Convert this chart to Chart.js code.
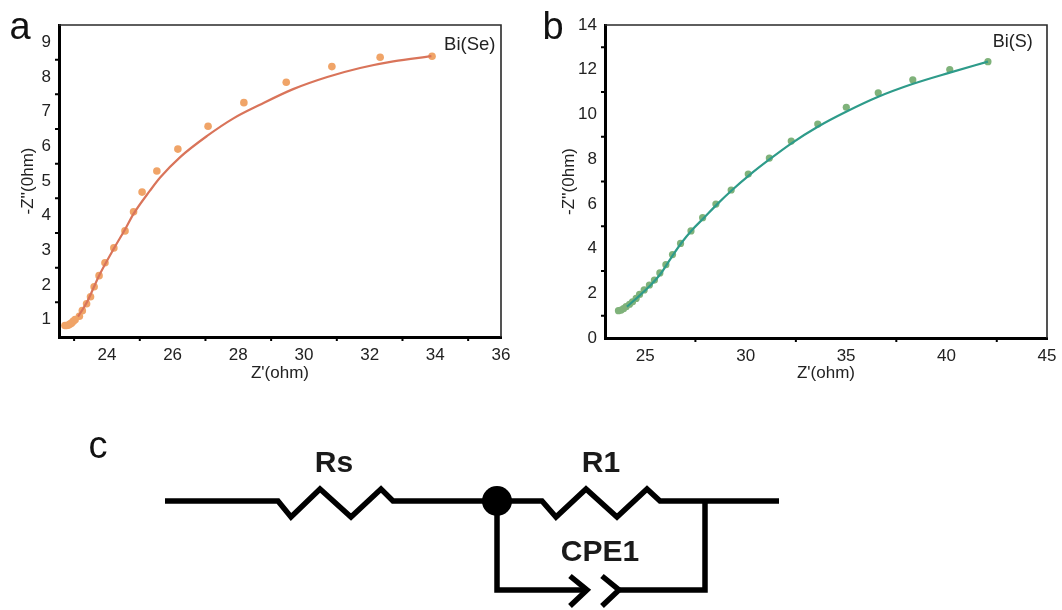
<!DOCTYPE html>
<html>
<head>
<meta charset="utf-8">
<script src="https://cdn.jsdelivr.net/npm/chart.js@4"></script>
<style>
  html, body { margin: 0; padding: 0; background: #fff; }
  body { width: 1062px; height: 610px; position: relative; overflow: hidden; }
  .box { position: absolute; }
</style>
</head>
<body>
<div class="box" style="left:0;top:0;width:530px;height:400px"><canvas id="chartA"></canvas></div>
<div class="box" style="left:530px;top:0;width:532px;height:400px"><canvas id="chartB"></canvas></div>
<div class="box" style="left:0;top:400px;width:1062px;height:210px"><canvas id="chartC"></canvas></div>
<script>
// panel a, Bi(Se)
var seX = [22.72, 22.77, 22.82, 22.87, 22.92, 22.97, 23.03, 23.16, 23.25, 23.38, 23.5, 23.61, 23.76, 23.94, 24.21, 24.55, 24.81, 25.07, 25.52, 26.16, 27.08, 28.17, 29.46, 30.85, 32.32, 33.9];
var seY = [0.83, 0.83, 0.84, 0.87, 0.9, 0.95, 1.0, 1.1, 1.26, 1.46, 1.66, 1.95, 2.27, 2.64, 3.07, 3.56, 4.11, 4.68, 5.29, 5.92, 6.58, 7.26, 7.85, 8.3, 8.57, 8.6];
var seFitX = [23.12, 23.39, 23.76, 24.21, 24.55, 24.81, 25.31, 25.62, 26.23, 27.05, 27.84, 28.66, 29.67, 30.71, 31.71, 32.72, 33.88];
var seFitY = [1.09, 1.5, 2.27, 3.05, 3.6, 4.05, 4.72, 5.1, 5.69, 6.3, 6.8, 7.2, 7.65, 8.0, 8.26, 8.45, 8.6];
var aXTicks = [24, 26, 28, 30, 32, 34, 36];
var aXMinor = [23, 25, 27, 29, 31, 33, 35];
var aYTicks = [1, 2, 3, 4, 5, 6, 7, 8, 9];
var aYMinor = [1.5, 2.5, 3.5, 4.5, 5.5, 6.5, 7.5, 8.5];

// panel b, Bi(S)
var sX = [23.67, 23.8, 23.92, 24.05, 24.22, 24.37, 24.55, 24.72, 24.95, 25.21, 25.46, 25.73, 26.03, 26.36, 26.76, 27.28, 27.86, 28.52, 29.28, 30.13, 31.18, 32.27, 33.59, 35.01, 36.6, 38.32, 40.16, 42.06];
var sY = [1.22, 1.25, 1.31, 1.4, 1.51, 1.62, 1.77, 1.95, 2.15, 2.37, 2.59, 2.91, 3.28, 3.73, 4.23, 4.79, 5.38, 5.99, 6.62, 7.33, 8.05, 8.81, 9.57, 10.32, 10.97, 11.55, 12.01, 12.36];
var sFitX = [24.09, 24.6, 25.2, 25.75, 26.3, 26.8, 27.3, 27.9, 28.6, 29.3, 30.2, 31.2, 32.3, 33.59, 35, 36.6, 38.3, 40.16, 42.06];
var sFitY = [1.4, 1.8, 2.3, 2.85, 3.6, 4.25, 4.8, 5.35, 6.0, 6.6, 7.3, 8.0, 8.72, 9.45, 10.12, 10.79, 11.36, 11.87, 12.36];
var bXTicks = [25, 30, 35, 40, 45];
var bXMinor = [27.5, 32.5, 37.5, 42.5];
var bYTicks = [0, 2, 4, 6, 8, 10, 12, 14];
var bYMinor = [1, 3, 5, 7, 9, 11, 13];

// panel c, circuit drawn in page units
var wireX = [165, 278, 291, 320, 351, 381, 393, 542, 556, 586, 617, 647, 660, 779];
var wireY = [501, 501, 517, 489, 517, 489, 501, 501, 517, 489, 517, 489, 501, 501];
var loopX = [497, 497, 585];
var loopY = [501, 590, 590];
var loopBackX = [705, 705, 620];
var loopBackY = [501, 590, 590];
var plate1X = [570, 587, 570];
var plate2X = [602, 619, 602];
var plateY = [576, 590, 606];
var nodeX = [497];
var nodeY = [501];

function xy(xs, ys) {
  return xs.map(function (x, i) { return { x: x, y: ys[i] }; });
}

var textColor = "#222";
Chart.defaults.font.family = "'Liberation Sans', Arial, sans-serif";
Chart.defaults.color = textColor;
Chart.defaults.animation = false;
Chart.defaults.responsive = true;
Chart.defaults.maintainAspectRatio = false;

// data labels and panel letters
var textPlugin = {
  id: "texts",
  afterDraw: function (chart, args, opts) {
    var c = chart.ctx;
    opts.items.forEach(function (t) {
      var px = t.data ? chart.scales.x.getPixelForValue(t.x) : t.x;
      var py = t.data ? chart.scales.y.getPixelForValue(t.y) : t.y;
      c.save();
      c.font = t.font;
      c.fillStyle = t.color || textColor;
      c.textAlign = t.align || "center";
      c.textBaseline = t.base || "middle";
      c.fillText(t.text, px, py);
      c.restore();
    });
  },
};

// top and right edges plus the minor ticks, which Chart.js has no option for
var framePlugin = {
  id: "frame",
  afterDraw: function (chart, args, opts) {
    var c = chart.ctx,
      a = chart.chartArea;
    c.save();
    c.strokeStyle = "#2a2a2a";
    c.lineWidth = 1.6;
    c.beginPath();
    c.moveTo(a.left, a.top);
    c.lineTo(a.right, a.top);
    c.lineTo(a.right, a.bottom);
    c.stroke();
    c.strokeStyle = "#000";
    c.lineWidth = 2;
    c.beginPath();
    opts.xMinor.forEach(function (v) {
      var p = chart.scales.x.getPixelForValue(v);
      c.moveTo(p, a.bottom);
      c.lineTo(p, a.bottom + 4);
    });
    opts.yMinor.forEach(function (v) {
      var p = chart.scales.y.getPixelForValue(v);
      c.moveTo(a.left, p);
      c.lineTo(a.left - 4, p);
    });
    c.stroke();
    c.restore();
  },
};

function setTicks(list) {
  return function (scale) {
    scale.ticks = list.map(function (v) { return { value: v }; });
  };
}

function axis(min, max, list, title, titlePad, fitKey, fitVal) {
  return {
    type: "linear",
    min: min,
    max: max,
    afterBuildTicks: setTicks(list),
    afterFit: function (scale) { scale[fitKey] = fitVal; },
    grid: { display: false, drawTicks: true, tickLength: 6, tickColor: "#000", tickWidth: 2 },
    border: { display: true, color: "#000", width: 3 },
    ticks: { autoSkip: false, maxRotation: 0, padding: 2, color: textColor, font: { size: 17 } },
    title: { display: true, text: title, color: textColor, font: { size: 17 }, padding: titlePad },
  };
}

var chartA = new Chart(document.getElementById("chartA"), {
  type: "scatter",
  data: {
    datasets: [
      { label: "Bi(Se) fit", data: xy(seFitX, seFitY), showLine: true, cubicInterpolationMode: "monotone", borderColor: "#d9745a", borderWidth: 2.2, pointRadius: 0 },
      { label: "Bi(Se)", data: xy(seX, seY), showLine: false, pointRadius: 3.8, pointBorderWidth: 0, backgroundColor: "#f0a468" },
    ],
  },
  options: {
    layout: { autoPadding: false, padding: { top: 25, right: 29, left: 0, bottom: 0 } },
    scales: {
      x: axis(22.54, 36, aXTicks, "Z'(ohm)", { top: 0, bottom: 16 }, "height", 63),
      y: axis(0.5, 9.5, aYTicks, "-Z''(0hm)", { top: 18, bottom: 0 }, "width", 59),
    },
    plugins: {
      legend: { display: false },
      tooltip: { enabled: false },
      frame: { xMinor: aXMinor, yMinor: aYMinor },
      texts: {
        items: [
          { text: "Bi(Se)", data: true, x: 35.05, y: 8.92, font: "18.5px 'Liberation Sans'" },
          { text: "a", x: 20, y: 39, base: "alphabetic", font: "38px 'Liberation Sans'", color: "#111" },
        ],
      },
    },
  },
  plugins: [framePlugin, textPlugin],
});

var chartB = new Chart(document.getElementById("chartB"), {
  type: "scatter",
  data: {
    datasets: [
      { label: "Bi(S) fit", data: xy(sFitX, sFitY), showLine: true, cubicInterpolationMode: "monotone", borderColor: "#2e9b8a", borderWidth: 2.2, pointRadius: 0 },
      { label: "Bi(S)", data: xy(sX, sY), showLine: false, pointRadius: 3.6, pointBorderWidth: 0, backgroundColor: "#7fb27a" },
    ],
  },
  options: {
    layout: { autoPadding: false, padding: { top: 25, right: 15, left: 0, bottom: 0 } },
    scales: {
      x: axis(23, 45, bXTicks, "Z'(ohm)", { top: 0, bottom: 16 }, "height", 62),
      y: axis(0, 14, bYTicks, "-Z''(0hm)", { top: 29, bottom: 0 }, "width", 75),
    },
    plugins: {
      legend: { display: false },
      tooltip: { enabled: false },
      frame: { xMinor: bXMinor, yMinor: bYMinor },
      texts: {
        items: [
          { text: "Bi(S)", data: true, x: 43.3, y: 13.24, font: "18px 'Liberation Sans'" },
          { text: "b", x: 23, y: 39, base: "alphabetic", font: "38px 'Liberation Sans'", color: "#111" },
        ],
      },
    },
  },
  plugins: [framePlugin, textPlugin],
});

function wire(xs, ys, width) {
  return { data: xy(xs, ys), showLine: true, tension: 0, borderColor: "#000", borderWidth: width, pointRadius: 0, borderJoinStyle: "miter" };
}

var chartC = new Chart(document.getElementById("chartC"), {
  type: "scatter",
  data: {
    datasets: [
      wire(wireX, wireY, 5.5),
      wire(loopX, loopY, 5.5),
      wire(loopBackX, loopBackY, 5.5),
      wire(plate1X, plateY, 5.5),
      wire(plate2X, plateY, 5.5),
      { data: xy(nodeX, nodeY), showLine: false, pointRadius: 15, pointBorderWidth: 0, backgroundColor: "#000" },
    ],
  },
  options: {
    layout: { autoPadding: false, padding: 0 },
    scales: {
      x: { type: "linear", display: false, min: 0, max: 1062 },
      y: { type: "linear", display: false, min: 400, max: 610, reverse: true },
    },
    plugins: {
      legend: { display: false },
      tooltip: { enabled: false },
      texts: {
        items: [
          { text: "c", data: true, x: 98, y: 458, base: "alphabetic", font: "38px 'Liberation Sans'", color: "#111" },
          { text: "Rs", data: true, x: 334, y: 464, font: "bold 30px 'Liberation Sans'", color: "#1a1a1a" },
          { text: "R1", data: true, x: 601, y: 464, font: "bold 30px 'Liberation Sans'", color: "#1a1a1a" },
          { text: "CPE1", data: true, x: 600, y: 553, font: "bold 30px 'Liberation Sans'", color: "#1a1a1a" },
        ],
      },
    },
  },
  plugins: [textPlugin],
});
</script>
</body>
</html>
